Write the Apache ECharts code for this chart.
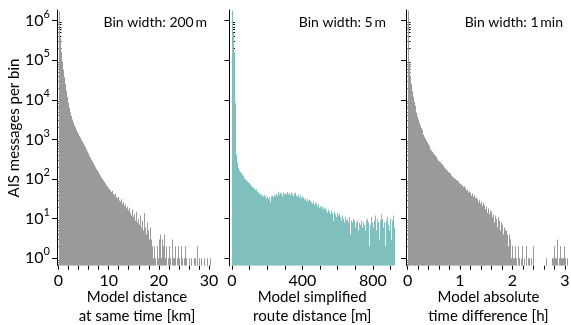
<!DOCTYPE html>
<html>
<head>
<meta charset="utf-8">
<script src="https://cdn.jsdelivr.net/npm/echarts@6/dist/echarts.min.js"></script>
<style>
html,body{margin:0;padding:0;background:#fff;}
#chart{width:571px;height:325px;}
</style>
</head>
<body>
<div id="chart"></div>
<script>
// counts per bin
// 200 m bins, from 0 km
var distCounts = [
	1700000,370000,165000,92000,58000,38000,25000,17000,12000,8600,
	6300,4800,3900,3200,2700,2300,2000,1750,1550,1380,
	1230,1100,990,890,800,720,640,570,500,440,
	390,350,310,280,250,225,200,180,165,150,
	135,122,110,100,92,84,78,70,66,60,
	55,52,47,50,42,39,43,35,33,36,
	29,27,31,24,26,21,23,18,20,16,
	19,14,12,17,11,13,9,15,8,10,
	7,12,6,9,5,14,6,4,8,5,
	3,6,3,2,1,2,1,0,2,1,
	3,4,1,3,2,4,1,2,0,1,
	2,1,0,3,1,1,2,0,1,2,
	1,0,2,1,0,1,2,1,0,0,
	1,0,1,0,0,1,1,0,2,0,
	1,0,1,0,0,1,0,0,1,0,
	0,1,0,0,0
];
// 5 m bins, from 0 m
var routeCounts = [
	1800000,480000,160000,8200,900,420,260,190,165,150,
	140,128,120,112,105,98,92,88,82,78,
	74,70,66,63,60,57,52,55,48,44,
	46,41,43,38,40,36,39,34,37,33,
	36,32,35,26,37,33,38,35,40,37,
	42,38,48,40,45,39,43,37,46,41,
	44,42,38,47,41,44,39,46,42,37,
	43,40,45,38,36,41,34,39,33,36,
	31,34,30,33,28,31,27,30,25,29,
	26,24,27,22,25,21,24,20,23,19,
	21,18,20,17,19,15,18,16,14,17,
	15,13,16,12,14,9,15,13,11,14,
	12,10,13,11,9,12,10,8,11,9,
	7,10,8,11,4,9,8,10,7,9,
	6,8,9,5,8,7,3,9,6,8,
	7,5,9,10,6,8,2,7,11,8,
	6,9,12,7,5,10,8,3,9,13,
	7,10,6,8,2,9,11,7,5,10,
	8,3,9,12,6
];
// 1 min bins, from 0 h
var timeCounts = [
	1780000,316000,83000,40000,25000,16600,12000,8900,7100,5600,
	4700,3800,3200,2600,2240,1950,1700,1480,1320,1170,
	1050,930,850,760,690,620,560,525,490,450,
	415,390,365,340,315,295,280,265,248,232,
	218,205,195,182,172,162,152,145,138,130,
	124,117,110,105,100,95,91,84,88,79,
	76,70,72,62,65,56,60,52,54,46,
	49,44,45,38,43,36,39,33,35,29,
	31,26,30,24,27,21,25,18,22,17,
	20,14,18,13,16,9,15,11,13,8,
	12,10,6,11,8,9,5,8,7,4,
	6,5,3,5,4,2,4,3,1,2,
	2,1,1,2,1,0,2,1,1,0,
	1,2,0,1,0,1,2,0,1,1,
	0,1,0,2,1,0,0,0,0,0,
	0,0,0,0,0,0,0,0,1,0,
	0,0,0,0,0,1,1,0,2,1,
	1,3,0,1,2,1,0,1,1,2,
	1,0,1,0,0,0,0
];
var binWidths = [0.2, 5, 1/60];

var yTicks = [1,10,100,1000,10000,100000,1000000];
var xTicks = [
	[0,2,4,6,8,10,12,14,16,18,20,22,24,26,28,30],
	[0,100,200,300,400,500,600,700,800,900],
	[0,0.2,0.4,0.6,0.8,1,1.2,1.4,1.6,1.8,2,2.2,2.4,2.6,2.8,3]
];
var xLabels = [[0,10,20,30],[0,400,800],[0,1,2,3]];
var xNames = ['Model distance\nat same time [km]','Model simplified\nroute distance [m]','Model absolute\ntime difference [h]'];
var binTitles = ['Bin width: 200\u2009m','Bin width: 5\u2009m','Bin width: 1\u2009min'];

var Y_MIN = 0.65, Y_MAX = 1.86e6;
var FONT = 'Lato';
var GRAY = '#9a9a9a', TEAL = '#7fbfbd';

// minor log ticks 2..9 of each decade
var yMinor = [0.7,0.8,0.9];
for (var d = 0; d < yTicks.length; d++) {
	for (var m = 2; m < 10; m++) {
		if (yTicks[d]*m < Y_MAX) yMinor.push(yTicks[d]*m);
	}
}

var grids = [
	{left:57, top:10, width:160, height:255.7, outerBoundsMode:'none', containLabel:false},
	{left:229.5, top:10, width:165.5, height:255.7, outerBoundsMode:'none', containLabel:false},
	{left:406, top:10, width:165, height:255.7, outerBoundsMode:'none', containLabel:false}
];
var xRanges = [[-0.3,31.6],[-14,926],[-0.029,3.115]];

function makeX(i){
	return {
		gridIndex:i, type:'value', min:xRanges[i][0], max:xRanges[i][1],
		axisLine:{show:false},
		axisTick:{show:true, customValues:xTicks[i], length:4, lineStyle:{color:'#000', width:1}},
		axisLabel:{customValues:xLabels[i], margin:7, fontSize:16, color:'#000', fontFamily:FONT},
		splitLine:{show:false},
		name:xNames[i], nameLocation:'middle', nameGap:22, nameMoveOverlap:false,
		nameTextStyle:{fontSize:15, lineHeight:19, color:'#000', fontFamily:FONT}
	};
}

function makeY(i, major){
	if (major) {
		return {
			gridIndex:i, type:'log', logBase:10, min:Y_MIN, max:Y_MAX,
			axisLine:{show:true, onZero:false, lineStyle:{color:'#000', width:1}},
			axisTick:{show:true, customValues:yTicks, length:5, lineStyle:{color:'#000', width:1}},
			axisLabel:{
				show:i===0, customValues:yTicks, margin:7, color:'#000',
				formatter:function(v){
					return '{b|10}{s|' + Math.round(Math.log(v)/Math.LN10) + '}';
				},
				rich:{
					b:{fontSize:16, lineHeight:24, fontFamily:FONT, color:'#000'},
					s:{fontSize:11, verticalAlign:'top', fontFamily:FONT, color:'#000'}
				}
			},
			splitLine:{show:false}
		};
	}
	return {
		gridIndex:i, type:'log', logBase:10, min:Y_MIN, max:Y_MAX,
		axisLine:{show:false},
		axisTick:{show:true, customValues:yMinor, length:3, lineStyle:{color:'#000', width:1}},
		axisLabel:{show:false},
		splitLine:{show:false}
	};
}

function histSeries(i, counts, color){
	var w = binWidths[i];
	var data = [];
	for (var k = 0; k < counts.length; k++) {
		if (counts[k] > 0) data.push([k*w, counts[k]]);
	}
	return {
		type:'custom', xAxisIndex:i, yAxisIndex:i*2, clip:true, silent:true,
		encode:{x:0, y:1},
		renderItem:function(params, api){
			var x0 = api.value(0), v = api.value(1);
			var top = api.coord([x0, v]);
			var bot = api.coord([x0 + w, Y_MIN]);
			// snap to whole pixels so neighbouring bins don't leave seams
			var px0 = Math.round(top[0]), px1 = Math.round(bot[0]);
			if (px1 <= px0) px1 = px0 + 1;
			return {
				type:'rect',
				shape:{x:px0, y:top[1], width:px1-px0, height:bot[1]-top[1]},
				style:{fill:color}
			};
		},
		data:data
	};
}

var xAxes = [], yAxes = [];
for (var i = 0; i < 3; i++) {
	xAxes.push(makeX(i));
	yAxes.push(makeY(i, true));
	yAxes.push(makeY(i, false));
}

var graphics = [
	{type:'text', x:14, y:128, rotation:Math.PI/2,
	 style:{text:'AIS messages per bin', font:'15px ' + FONT, fill:'#000', align:'center', verticalAlign:'middle'}},
	{type:'text', x:207, y:22, style:{text:binTitles[0], font:'14px ' + FONT, fill:'#000', align:'right', verticalAlign:'middle'}},
	{type:'text', x:386, y:22, style:{text:binTitles[1], font:'14px ' + FONT, fill:'#000', align:'right', verticalAlign:'middle'}},
	{type:'text', x:563, y:22, style:{text:binTitles[2], font:'14px ' + FONT, fill:'#000', align:'right', verticalAlign:'middle'}}
];

var myChart = echarts.init(document.getElementById('chart'), null, {renderer:'canvas'});
var option = {
	animation:false,
	backgroundColor:'#fff',
	grid:grids,
	xAxis:xAxes,
	yAxis:yAxes,
	graphic:graphics,
	series:[
		histSeries(0, distCounts, GRAY),
		histSeries(1, routeCounts, TEAL),
		histSeries(2, timeCounts, GRAY)
	]
};
myChart.setOption(option);
</script>
</body>
</html>
